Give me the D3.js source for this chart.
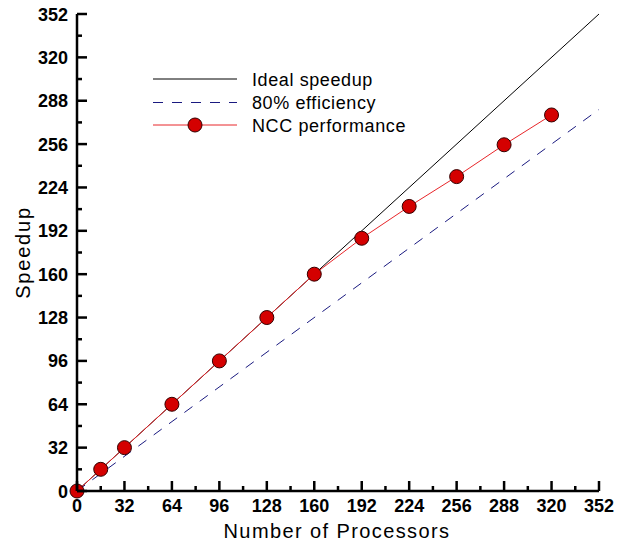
<!DOCTYPE html>
<html>
<head>
<meta charset="utf-8">
<script src="https://cdn.jsdelivr.net/npm/d3@7"></script>
<style>
  body { margin: 0; background: #fff; }
  text { font-family: "Liberation Sans", Arial, sans-serif; }
</style>
</head>
<body>
<div id="chart"></div>
<script>
'use strict'

// data
const processors = [0, 16, 32, 64, 96, 128, 160, 192, 224, 256, 288, 320]
const speedup = [0, 16, 32, 64, 96, 128, 160, 186.5, 210, 232, 255.5, 277.5]
const idealX = [0, 352]
const idealY = [0, 352]
const effY = [0, 281.6]
const ticks = [0, 32, 64, 96, 128, 160, 192, 224, 256, 288, 320, 352]
const minorTicks = [16, 48, 80, 112, 144, 176, 208, 240, 272, 304, 336]
const legendLabels = ['Ideal speedup', '80% efficiency', 'NCC performance']

const W = 618, H = 544
const margin = { left: 77, right: 19, top: 14, bottom: 53 }

const svg = d3.select('#chart').append('svg')
    .attr('width', W).attr('height', H)

const x = d3.scaleLinear().domain([0, 352]).range([margin.left, W - margin.right])
const y = d3.scaleLinear().domain([0, 352]).range([H - margin.bottom, margin.top])

// lines
const line = d3.line().x(d => x(d[0])).y(d => y(d[1]))

svg.append('path')
    .attr('d', line(d3.zip(idealX, idealY)))
    .attr('fill', 'none').attr('stroke', '#000').attr('stroke-width', 1)

svg.append('path')
    .attr('d', line(d3.zip(idealX, effY)))
    .attr('fill', 'none').attr('stroke', '#1a1a80').attr('stroke-width', 1)
    .attr('stroke-dasharray', '10,9')

svg.append('path')
    .attr('d', line(d3.zip(processors, speedup)))
    .attr('fill', 'none').attr('stroke', '#e8262a').attr('stroke-width', 1)

svg.selectAll('circle.pt')
    .data(d3.zip(processors, speedup))
    .join('circle')
    .attr('class', 'pt')
    .attr('cx', d => x(d[0])).attr('cy', d => y(d[1]))
    .attr('r', 7)
    .attr('fill', '#d40000').attr('stroke', '#300').attr('stroke-width', 1)

// axes
const axisG = svg.append('g').attr('stroke', '#000').attr('stroke-width', 2.5)
axisG.append('line')
    .attr('x1', x(0)).attr('x2', x(352)).attr('y1', y(0)).attr('y2', y(0))
axisG.append('line')
    .attr('x1', x(0)).attr('x2', x(0)).attr('y1', y(0)).attr('y2', y(352))

axisG.selectAll('line.xt').data(ticks).join('line').attr('class', 'xt')
    .attr('x1', d => x(d)).attr('x2', d => x(d)).attr('y1', y(0)).attr('y2', y(0) - 10)
axisG.selectAll('line.xm').data(minorTicks).join('line').attr('class', 'xm')
    .attr('x1', d => x(d)).attr('x2', d => x(d)).attr('y1', y(0)).attr('y2', y(0) - 5)
axisG.selectAll('line.yt').data(ticks).join('line').attr('class', 'yt')
    .attr('y1', d => y(d)).attr('y2', d => y(d)).attr('x1', x(0)).attr('x2', x(0) + 10)
axisG.selectAll('line.ym').data(minorTicks).join('line').attr('class', 'ym')
    .attr('y1', d => y(d)).attr('y2', d => y(d)).attr('x1', x(0)).attr('x2', x(0) + 5)

svg.selectAll('text.xl').data(ticks).join('text').attr('class', 'xl')
    .attr('x', d => x(d)).attr('y', y(0) + 21)
    .attr('text-anchor', 'middle')
    .style('font-size', '18px').style('font-weight', 'bold')
    .text(d => d)

svg.selectAll('text.yl').data(ticks).join('text').attr('class', 'yl')
    .attr('x', x(0) - 9).attr('y', d => y(d) + 6.5)
    .attr('text-anchor', 'end')
    .style('font-size', '18px').style('font-weight', 'bold')
    .text(d => d)

svg.append('text')
    .attr('x', (x(0) + x(352)) / 2 - 1).attr('y', 538)
    .attr('text-anchor', 'middle')
    .style('font-size', '20px').style('letter-spacing', '1.4px')
    .text('Number of Processors')

svg.append('text')
    .attr('transform', `translate(30,${(y(0) + y(352)) / 2}) rotate(-90)`)
    .attr('text-anchor', 'middle')
    .style('font-size', '20px').style('letter-spacing', '1.8px')
    .text('Speedup')

// legend
const legendY = [79, 102.5, 125]
const lg = svg.append('g')
legendLabels.forEach((lab, i) => {
    const ly = legendY[i]
    const l = lg.append('line')
        .attr('x1', 153).attr('x2', 237).attr('y1', ly).attr('y2', ly)
        .attr('stroke-width', 1)
    if (i === 0) l.attr('stroke', '#000')
    if (i === 1) l.attr('stroke', '#1a1a80').attr('stroke-dasharray', '10,9')
    if (i === 2) {
        l.attr('stroke', '#e8262a')
        lg.append('circle').attr('cx', 195).attr('cy', ly).attr('r', 7)
            .attr('fill', '#d40000').attr('stroke', '#300')
    }
    lg.append('text')
        .attr('x', 252).attr('y', ly + 6.5)
        .style('font-size', '18px').style('letter-spacing', '0.6px')
        .text(lab)
})
</script>
</body>
</html>
